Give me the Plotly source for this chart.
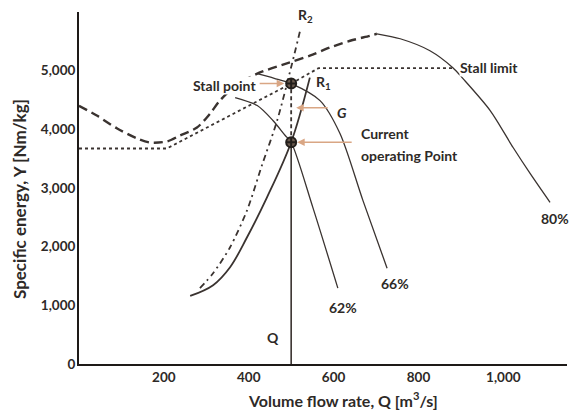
import plotly.graph_objects as go

# ---- data ----
surge_q = [0, 42, 90, 137, 167, 207, 238, 278, 309, 332, 370, 420, 497, 544, 592, 639, 686, 702]
surge_y = [4400, 4235, 4014, 3844, 3776, 3793, 3895, 4031, 4269, 4490, 4750, 4949, 5141, 5255, 5396, 5510, 5595, 5629]

q80 = [702, 757, 827, 881, 905, 969, 1023, 1063, 1110]
y80 = [5629, 5544, 5340, 5051, 4864, 4320, 3690, 3248, 2755]

q66 = [420, 460, 500, 568, 615, 669, 726]
y66 = [4949, 4870, 4780, 4490, 3929, 2789, 1633]

q62 = [368, 420, 457, 486, 500, 551, 610]
y62 = [4541, 4405, 4150, 3895, 3780, 2670, 1293]

r1_q = [262, 316, 356, 396, 443, 500, 544]
r1_y = [1160, 1344, 1650, 2160, 2840, 3780, 4881]

r2_q = [285, 316, 356, 396, 431, 467, 502, 521]
r2_y = [1293, 1548, 1990, 2619, 3384, 4150, 5119, 5680]

stall_lim_q = [0, 207, 500, 565, 881]
stall_lim_y = [3673, 3673, 4780, 5045, 5045]

Q_op = 500
Y_op = 3780
Y_stall = 4780
Y_gap_arrow = 4370

x_ticks = [200, 400, 600, 800, 1000]
y_ticks = [0, 1000, 2000, 3000, 4000, 5000]

LINE = "#3a3330"
TEXT = "#2e2a27"
ARROW = "#d9a684"
FONT = "Lato"

fig = go.Figure()

def add(x, y, width, dash="solid", shape="spline", smoothing=0.8):
    fig.add_trace(go.Scatter(x=x, y=y, mode="lines",
                             line=dict(color=LINE, width=width, dash=dash, shape=shape, smoothing=smoothing),
                             hoverinfo="skip", showlegend=False))

add(surge_q, surge_y, 2.4, "9px,5px")
add(q80, y80, 1.3)
add(q66, y66, 1.3)
add(q62, y62, 1.3)
add(r1_q, r1_y, 1.8, smoothing=1.0)
add(r2_q, r2_y, 1.8, "6px,4px,2px,4px")
add(stall_lim_q, stall_lim_y, 1.8, "dot", "linear")
add([Q_op, Q_op], [0, Y_op], 1.6, "solid", "linear")
add([Q_op, Q_op], [Y_op, Y_stall], 1.8, "4px,3px", "linear")

fig.add_trace(go.Scatter(x=[Q_op, Q_op], y=[Y_stall, Y_op], mode="markers",
                         marker=dict(symbol="circle-cross", size=10, color="#6b5a4e",
                                     line=dict(color="#221e1b", width=2)),
                         hoverinfo="skip", showlegend=False))

def arrow(x, y, ax, standoff):
    fig.add_annotation(x=x, y=y, ax=ax, ay=0, text="", showarrow=True,
                       arrowhead=2, arrowsize=1, arrowwidth=1.5, arrowcolor=ARROW,
                       standoff=standoff)

arrow(Q_op, Y_stall, -33, 7)
arrow(Q_op, Y_gap_arrow, 38, 5)
arrow(Q_op, Y_op, 62, 6)

def label(text, x, y, size=14, xanchor="center", bg=None):
    fig.add_annotation(x=x, y=y, text=text, showarrow=False, xanchor=xanchor, yanchor="middle",
                       font=dict(family=FONT, size=size, color=TEXT, weight="bold"),
                       bgcolor=bg, borderpad=0)

label("Stall point", 420, 4745, xanchor="right", bg="white")
label("R<sub>1</sub>", 575, 4790)
label("R<sub>2</sub>", 533, 5935)
label("<i>G</i>", 620, 4290)
label("Current", 662, 3929, xanchor="left")
label("operating Point", 662, 3554, xanchor="left")
label("Stall limit", 896, 5051, xanchor="left", bg="white")
label("80%", 1122, 2483)
label("66%", 745, 1378)
label("62%", 622, 969)
label("Q", 457, 459)

fig.add_annotation(xref="paper", yref="paper", x=0.54, y=-0.102, xanchor="center", yanchor="middle",
                   text="Volume flow rate, Q [m<sup>3</sup>/s]", showarrow=False,
                   font=dict(family=FONT, size=16, color=TEXT, weight="bold"))
fig.add_annotation(xref="paper", yref="paper", x=-0.122, y=0.47, xanchor="center", yanchor="middle",
                   textangle=-90, text="Specific energy, Y [Nm/kg]", showarrow=False,
                   font=dict(family=FONT, size=17, color=TEXT, weight="bold"))

fig.update_xaxes(range=[0, 1150], tickvals=x_ticks, tickformat=",", showgrid=False, zeroline=False,
                 showline=True, linecolor="#1e1a18", linewidth=2, ticks="", ticklen=0,
                 tickfont=dict(family=FONT, size=13.5, color=TEXT, weight="bold"))
fig.update_yaxes(range=[0, 6000], tickvals=y_ticks, tickformat=",", showgrid=False, zeroline=False,
                 showline=True, linecolor="#1e1a18", linewidth=2, ticks="", ticklen=0,
                 ticklabelstandoff=-1,
                 tickfont=dict(family=FONT, size=13.5, color=TEXT, weight="bold"))

fig.update_layout(width=580, height=420, margin=dict(l=79, r=13, t=12, b=56),
                  plot_bgcolor="white", paper_bgcolor="white")

fig.write_html("out.html")
